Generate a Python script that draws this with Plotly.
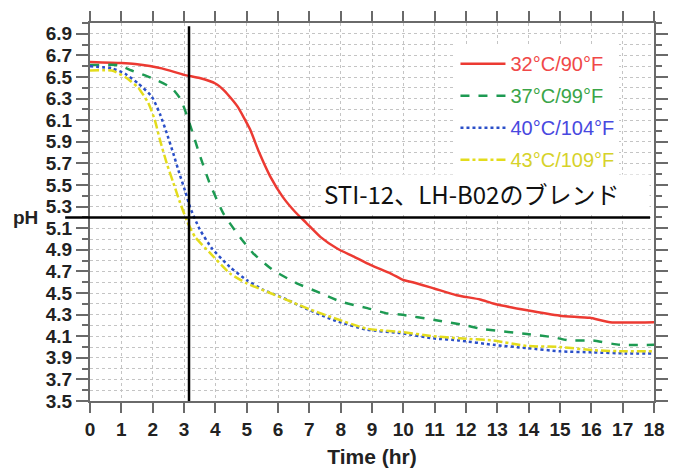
import plotly.graph_objects as go

# ---- data ----
hours_red = [0, 1, 1.44, 2.29, 3.0, 3.5, 4.0, 4.3, 4.7, 5.1, 5.4, 5.75, 6.15, 6.55, 6.9, 7.35, 7.9, 8.4, 8.95,
             9.6, 10.0, 10.3, 11.0, 11.7, 12.45, 12.9, 13.95, 15.0, 15.95, 16.6, 18]
ph_red = [6.64, 6.63, 6.62, 6.58, 6.52, 6.49, 6.44, 6.37, 6.23, 6.02, 5.80, 5.58, 5.39, 5.25, 5.15, 5.02, 4.91,
          4.84, 4.76, 4.68, 4.62, 4.60, 4.54, 4.48, 4.44, 4.40, 4.34, 4.29, 4.27, 4.23, 4.23]

hours_green = [0, 0.9, 1.33, 1.97, 2.6, 2.9, 3.2, 3.5, 3.8, 4.25, 4.7, 5.2, 5.85, 6.6, 7.35, 8.0, 8.85, 9.5,
               9.9, 11.0, 12.0, 12.45, 13.95, 14.8, 15.3, 16.05, 16.9, 18]
ph_green = [6.61, 6.61, 6.56, 6.49, 6.40, 6.29, 6.05, 5.78, 5.53, 5.24, 5.05, 4.87, 4.71, 4.59, 4.50, 4.42, 4.36,
            4.31, 4.30, 4.25, 4.20, 4.17, 4.12, 4.09, 4.06, 4.06, 4.02, 4.02]

hours_blue = [0, 0.7, 1.12, 1.54, 1.97, 2.23, 2.45, 2.66, 2.85, 3.03, 3.2, 3.5, 3.9, 4.47, 5.0, 5.53, 6.28, 6.7,
              7.77, 8.83, 9.9, 10.96, 11.8, 12.87, 13.94, 15.0, 16.06, 17.1, 18]
ph_blue = [6.60, 6.58, 6.53, 6.44, 6.32, 6.16, 5.98, 5.79, 5.61, 5.45, 5.29, 5.09, 4.91, 4.74, 4.62, 4.53, 4.44,
           4.38, 4.25, 4.16, 4.13, 4.08, 4.06, 4.02, 3.99, 3.96, 3.95, 3.94, 3.94]

hours_yellow = [0, 0.7, 1.12, 1.54, 1.86, 2.07, 2.23, 2.45, 2.66, 2.87, 3.09, 3.35, 3.8, 4.47, 5.0, 5.75, 6.5,
                7.0, 7.77, 8.83, 9.9, 10.96, 11.8, 12.87, 13.94, 15.0, 16.06, 17.1, 18]
ph_yellow = [6.56, 6.56, 6.50, 6.40, 6.26, 6.10, 5.92, 5.70, 5.52, 5.34, 5.17, 5.02, 4.88, 4.68, 4.59, 4.50,
             4.41, 4.35, 4.27, 4.17, 4.14, 4.10, 4.08, 4.06, 4.01, 4.00, 3.97, 3.96, 3.96]

series_names = ["32°C/90°F", "37°C/99°F", "40°C/104°F", "43°C/109°F"]
x_ticks = list(range(0, 19))
y_ticks = [3.5, 3.7, 3.9, 4.1, 4.3, 4.5, 4.7, 4.9, 5.1, 5.3, 5.5, 5.7, 5.9, 6.1, 6.3, 6.5, 6.7, 6.9]
y_minor = [3.6, 3.8, 4.0, 4.2, 4.4, 4.6, 4.8, 5.0, 5.2, 5.4, 5.6, 5.8, 6.0, 6.2, 6.4, 6.6, 6.8, 7.0]
marker_hour = 3.16
marker_ph = 5.2
note_text = "STI-12、LH-B02のブレンド"

line_colors = ["#ec3a32", "#1d9a52", "#2a4fc8", "#e3dc1c"]
text_colors = ["#f04848", "#3aa548", "#4848e0", "#d6d22a"]
dashes = ["solid", "dash", "dot", "dashdot"]

fig = go.Figure()
data = [(hours_red, ph_red), (hours_green, ph_green), (hours_blue, ph_blue), (hours_yellow, ph_yellow)]
for i, (hx, py) in enumerate(data):
    fig.add_trace(go.Scatter(
        x=hx, y=py, mode="lines",
        name=f'<span style="color:{text_colors[i]}">{series_names[i]}</span>',
        legendgroup=f"g{i}",
        line=dict(color=line_colors[i], width=2.5, dash=dashes[i], shape="spline", smoothing=0.5),
    ))

axis_color = "#6a6a6a"
tickfont = dict(family="Liberation Sans, Arial", size=19, color="#222", weight="bold")

fig.update_xaxes(
    range=[0, 18], tickmode="array", tickvals=x_ticks, ticks="outside", ticklen=10, tickwidth=2,
    tickcolor=axis_color, showline=True, linecolor=axis_color, linewidth=2, mirror="ticks",
    showgrid=True, gridcolor="#c4c4c4", griddash="dot", gridwidth=1, zeroline=False,
    tickfont=tickfont, automargin=False,
    title=dict(text="Time (hr)", font=dict(family="Liberation Sans, Arial", size=21, color="#222", weight="bold"),
               standoff=21),
)
fig.update_yaxes(
    range=[3.5, 7.0], tickmode="array", tickvals=y_ticks, ticks="outside", ticklen=12, tickwidth=2,
    tickcolor=axis_color, showline=True, linecolor=axis_color, linewidth=2, mirror="ticks",
    showgrid=True, gridcolor="#c4c4c4", griddash="dot", gridwidth=1, zeroline=False,
    tickfont=tickfont, automargin=False,
    minor=dict(tickmode="array", tickvals=y_minor, ticks="outside", ticklen=6, tickwidth=2, tickcolor=axis_color,
               showgrid=True, gridcolor="#c4c4c4", griddash="dot", gridwidth=1),
)

fig.add_shape(type="line", xref="x", yref="y", x0=marker_hour, x1=marker_hour, y0=3.5, y1=6.97,
              line=dict(color="black", width=2.5))
fig.add_shape(type="line", xref="paper", yref="y", x0=-0.044, x1=0.993, y0=marker_ph, y1=marker_ph,
              line=dict(color="black", width=2.5))

fig.add_annotation(text=note_text, xref="paper", yref="y", x=0.411, y=5.42, showarrow=False,
                   xanchor="left", yanchor="middle", width=324, align="left",
                   font=dict(family="Noto Sans CJK JP", size=24, color="#111"),
                   bgcolor="white", borderpad=1)
fig.add_annotation(text="pH", xref="paper", yref="y", x=-0.115, y=5.2, showarrow=False,
                   xanchor="center", yanchor="middle",
                   font=dict(family="Liberation Sans, Arial", size=19, color="#222", weight="bold"))

# page body adds an 8px offset; compensate so the plot area sits at 90..654 x 23..401
fig.update_layout(
    width=668, height=460,
    margin=dict(l=82, r=22, t=15, b=67),
    plot_bgcolor="white", paper_bgcolor="white",
    showlegend=True,
    legend=dict(x=0.648, y=0.944, xanchor="left", yanchor="top", bgcolor="white",
                font=dict(family="Liberation Sans, Arial", size=20), tracegroupgap=3, itemwidth=45),
)

fig.write_html("out.html")
